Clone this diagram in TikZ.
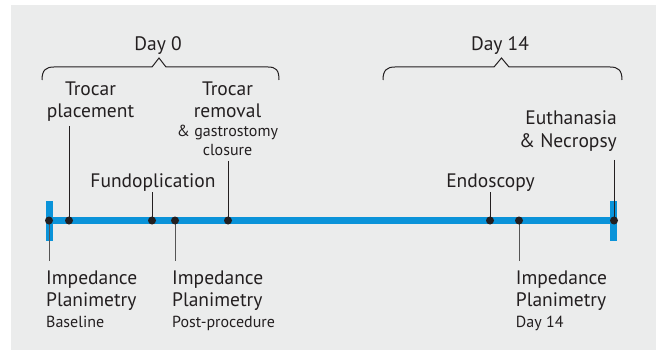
\documentclass[tikz,border=0pt]{standalone}
\usepackage{fontspec}
\setmainfont{PT Sans}
\definecolor{bg}{HTML}{EBECEC}
\definecolor{tl}{HTML}{0A93D9}
\definecolor{ink}{HTML}{231F20}
\definecolor{leadg}{HTML}{555555}
\begin{document}
\begin{tikzpicture}[x=1pt,y=-1pt,
  big/.style={font=\fontsize{19.5}{22}\selectfont, text=ink, inner sep=0pt},
  small/.style={font=\fontsize{16}{18}\selectfont, text=ink, inner sep=0pt},
  dot/.style={circle, fill=ink, inner sep=0pt, minimum size=8pt},
  leadtop/.style={draw=ink, line width=1pt},
  leadbot/.style={draw=leadg, line width=1pt},
  bracepath/.style={draw=ink, line width=1pt},
  bar/.style={fill=tl}]
\useasboundingbox (0,0) rectangle (656,350);
\fill[bg] (11,5) rectangle (656,350);

% timeline
\fill[bar] (46,201) rectangle (52.7,241);
\fill[bar] (610,201) rectangle (616.7,241);
\draw[tl, line width=6.5pt] (49,220.5) -- (614,220.5);

% dot positions
\coordinate (p1) at (49,220.5);
\coordinate (p2) at (69,220.5);
\coordinate (p3) at (152,220.5);
\coordinate (p4) at (175,220.5);
\coordinate (p5) at (228,220.5);
\coordinate (p6) at (490,220.5);
\coordinate (p7) at (519,220.5);
\coordinate (p8) at (614,220.5);

% leader ends
\coordinate (e2) at (69,126);
\coordinate (e3) at (152,192);
\coordinate (e5) at (228,161);
\coordinate (e6) at (490,192);
\coordinate (e8) at (614,160);
\coordinate (e1) at (49,261);
\coordinate (e4) at (175,261);
\coordinate (e7) at (519,261);

\draw[leadtop] (e2) -- (p2);
\draw[leadtop] (e3) -- (p3);
\draw[leadtop] (e5) -- (p5);
\draw[leadtop] (e6) -- (p6);
\draw[leadtop] (e8) -- (p8);
\draw[leadbot] (p1) -- (e1);
\draw[leadbot] (p4) -- (e4);
\draw[leadbot] (p7) -- (e7);

% dots
\node[dot] (d1) at (p1) {};
\node[dot] (d2) at (p2) {};
\node[dot] (d3) at (p3) {};
\node[dot] (d4) at (p4) {};
\node[dot] (d5) at (p5) {};
\node[dot] (d6) at (p6) {};
\node[dot] (d7) at (p7) {};
\node[dot] (d8) at (p8) {};

% braces
\draw[bracepath] (42,80) .. controls (42,70) and (46,67) .. (54,67) -- (152,67) -- (159,58) -- (166,67) -- (268,67) .. controls (276,67) and (279,70) .. (279,80);
\draw[bracepath] (383,80) .. controls (383,70) and (387,67) .. (395,67) -- (494,67) -- (501.5,58) -- (509,67) -- (610,67) .. controls (618,67) and (622,70) .. (622,80);

\node[big, anchor=base] (day0) at (158,51) {Day 0};
\node[big, anchor=base] (day14) at (500,51) {Day 14};

% top labels
\node[big, anchor=base] (tp1) at (90.5,96) {Trocar};
\node[big, anchor=base] (tp2) at (90.5,118) {placement};
\node[big, anchor=base] (tr1) at (227.5,96) {Trocar};
\node[big, anchor=base] (tr2) at (227.5,118) {removal};
\node[small, anchor=base] (tr3) at (227.5,137) {\& gastrostomy};
\node[small, anchor=base] (tr4) at (227.5,156) {closure};
\node[big, anchor=base] (fun) at (153,187.3) {Fundoplication};
\node[big, anchor=base] (endo) at (490.5,187.3) {Endoscopy};
\node[big, anchor=base east] (eu1) at (617,125) {Euthanasia};
\node[big, anchor=base east] (eu2) at (617,148) {\& Necropsy};

% bottom labels
\node[big, anchor=base west] (ia1) at (46,284) {Impedance};
\node[big, anchor=base west] (ia2) at (46,306) {Planimetry};
\node[small, anchor=base west] (ia3) at (46,327) {Baseline};
\node[big, anchor=base west] (ib1) at (172,284) {Impedance};
\node[big, anchor=base west] (ib2) at (172,306) {Planimetry};
\node[small, anchor=base west] (ib3) at (172,327) {Post-procedure};
\node[big, anchor=base west] (ic1) at (515.7,284) {Impedance};
\node[big, anchor=base west] (ic2) at (515.7,306) {Planimetry};
\node[small, anchor=base west] (ic3) at (515.7,327) {Day 14};
\end{tikzpicture}
\end{document}
